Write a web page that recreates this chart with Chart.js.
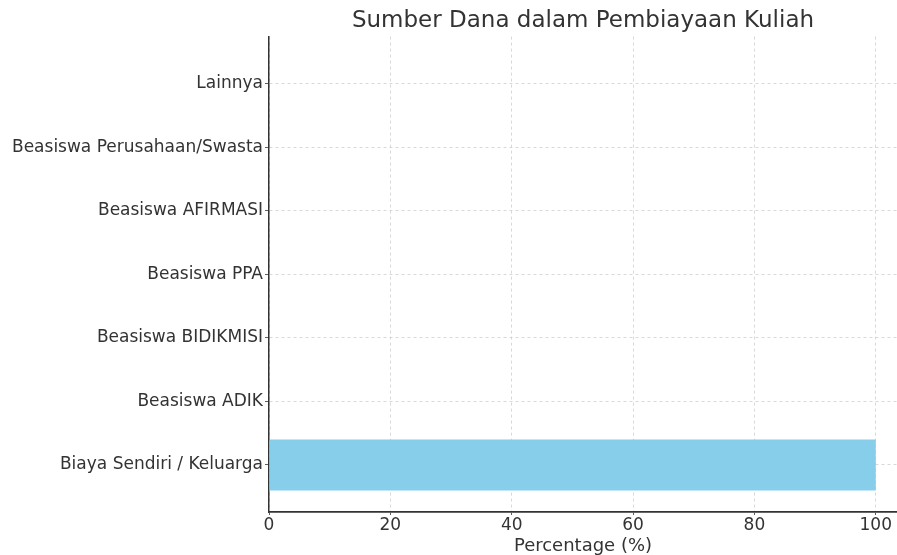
<!DOCTYPE html>
<html>
<head>
<meta charset="utf-8">
<script src="https://cdn.jsdelivr.net/npm/chart.js@4"></script>
<style>
  html, body { margin: 0; padding: 0; background: #fff; }
  #wrap { width: 897px; height: 555px; }
</style>
</head>
<body>
<div id="wrap"><canvas id="fundingChart" width="897" height="555"></canvas></div>
<script>
// data
const categories = [
    'Biaya Sendiri / Keluarga',
    'Beasiswa ADIK',
    'Beasiswa BIDIKMISI',
    'Beasiswa PPA',
    'Beasiswa AFIRMASI',
    'Beasiswa Perusahaan/Swasta',
    'Lainnya'
];
const percentages = [100, 0, 0, 0, 0, 0, 0];
const xTicks = [0, 20, 40, 60, 80, 100];

const textColor = '#333333';
const font = "'DejaVu Sans', sans-serif";

const points = categories.map((c, i) => ({ x: percentages[i], y: i }));

const fundingChart = document.getElementById('fundingChart');

const fundingChartConfig = {
    type: 'bar',
    data: {
        datasets: [
            {
                label: 'Percentage',
                data: points,
                backgroundColor: '#87ceeb',
                borderWidth: 0,
                barPercentage: 0.8,
                categoryPercentage: 1
            }
        ]
    },
    options: {
        indexAxis: 'y',
        responsive: false,
        animation: false,
        layout: { padding: 0 },
        plugins: {
            legend: { display: false },
            tooltip: { enabled: false },
            title: {
                display: true,
                fullSize: false,
                text: 'Sumber Dana dalam Pembiayaan Kuliah',
                color: textColor,
                font: { family: font, size: 23, weight: 'normal' },
                padding: { top: 7, bottom: 2 }
            }
        },
        scales: {
            x: {
                type: 'linear',
                min: 0,
                max: 103.5,
                afterBuildTicks: (scale) => {
                    scale.ticks = xTicks.map(v => ({ value: v }));
                },
                afterFit: (scale) => { scale.height = 43; },
                ticks: {
                    color: textColor,
                    font: { family: font, size: 17 },
                    padding: 0,
                    maxRotation: 0
                },
                grid: {
                    color: '#cfcfcf',
                    lineWidth: 0.8,
                    tickLength: 3,
                    tickColor: textColor
                },
                border: { display: true, color: textColor, width: 1.8, dash: [3, 3] },
                title: {
                    display: true,
                    text: 'Percentage (%)',
                    color: textColor,
                    font: { family: font, size: 18 },
                    padding: { top: 0, bottom: -2 }
                }
            },
            y: {
                type: 'linear',
                offset: false,
                min: -0.74,
                max: 6.74,
                afterBuildTicks: (scale) => {
                    scale.ticks = categories.map((c, i) => ({ value: i }));
                },
                afterFit: (scale) => { scale.width = 269; },
                ticks: {
                    color: textColor,
                    font: { family: font, size: 17 },
                    padding: 2,
                    callback: (v) => categories[v]
                },
                grid: {
                    offset: false,
                    color: '#cfcfcf',
                    lineWidth: 0.8,
                    tickLength: 4,
                    tickColor: textColor
                },
                border: { display: true, color: textColor, width: 1.5, dash: [3, 3] }
            }
        }
    }
};

const fundingChartInstance = new Chart(fundingChart, fundingChartConfig);
</script>
</body>
</html>
